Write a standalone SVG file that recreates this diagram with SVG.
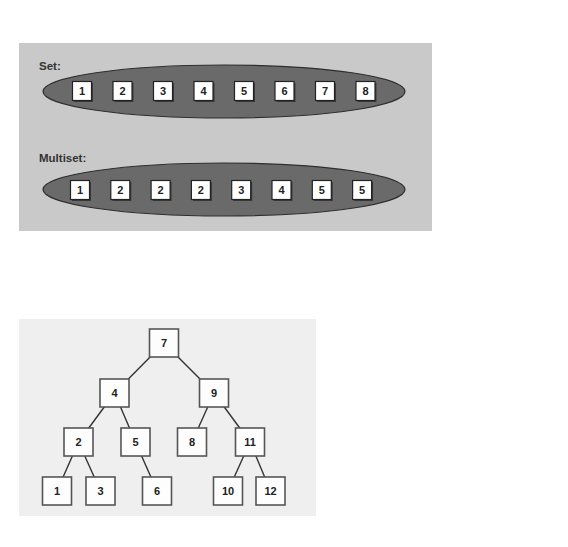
<svg xmlns="http://www.w3.org/2000/svg" width="568" height="547" viewBox="0 0 568 547">
<style>
.panel1{fill:#c9c9c9}
.panel2{fill:#efefef}
.ell{fill:#6a6a6a;stroke:#2e2e2e;stroke-width:1.2}
.sb{fill:#ffffff;stroke:#222;stroke-width:1.2}
.sh{fill:#3a3a3a}
.tb{fill:#fdfdfd;stroke:#555;stroke-width:1.6}
.lbl{font-family:"Liberation Sans",Arial,sans-serif;font-weight:bold;font-size:11.5px;fill:#333}
.num{font-family:"Liberation Sans",Arial,sans-serif;font-weight:bold;font-size:11px;fill:#222;text-anchor:middle}
.edge{stroke:#333;stroke-width:1.4}
</style>
<rect class="panel1" x="19" y="43" width="413" height="188"/>
<rect class="panel2" x="19" y="319" width="297" height="197"/>
<text class="lbl" x="39" y="70">Set:</text>
<text class="lbl" x="39" y="162">Multiset:</text>
<g id="set">
<ellipse class="ell" cx="224" cy="91.5" rx="181" ry="26.5"/>
<g id="s1"><rect class="sh" x="74" y="83" width="19" height="19"/><rect class="sb" x="72.5" y="81.5" width="19" height="19"/><text class="num" x="82" y="95">1</text></g>
<g id="s2"><rect class="sh" x="114.5" y="83" width="19" height="19"/><rect class="sb" x="113" y="81.5" width="19" height="19"/><text class="num" x="122.5" y="95">2</text></g>
<g id="s3"><rect class="sh" x="155" y="83" width="19" height="19"/><rect class="sb" x="153.5" y="81.5" width="19" height="19"/><text class="num" x="163" y="95">3</text></g>
<g id="s4"><rect class="sh" x="195.5" y="83" width="19" height="19"/><rect class="sb" x="194" y="81.5" width="19" height="19"/><text class="num" x="203.5" y="95">4</text></g>
<g id="s5"><rect class="sh" x="236" y="83" width="19" height="19"/><rect class="sb" x="234.5" y="81.5" width="19" height="19"/><text class="num" x="244" y="95">5</text></g>
<g id="s6"><rect class="sh" x="276.5" y="83" width="19" height="19"/><rect class="sb" x="275" y="81.5" width="19" height="19"/><text class="num" x="284.5" y="95">6</text></g>
<g id="s7"><rect class="sh" x="317" y="83" width="19" height="19"/><rect class="sb" x="315.5" y="81.5" width="19" height="19"/><text class="num" x="325" y="95">7</text></g>
<g id="s8"><rect class="sh" x="357.5" y="83" width="19" height="19"/><rect class="sb" x="356" y="81.5" width="19" height="19"/><text class="num" x="365.5" y="95">8</text></g>
</g>
<g id="multiset">
<ellipse class="ell" cx="224" cy="189.5" rx="181" ry="26.5"/>
<g id="m1"><rect class="sh" x="72" y="182" width="19" height="19"/><rect class="sb" x="70.5" y="180.5" width="19" height="19"/><text class="num" x="80" y="194">1</text></g>
<g id="m2"><rect class="sh" x="112.3" y="182" width="19" height="19"/><rect class="sb" x="110.8" y="180.5" width="19" height="19"/><text class="num" x="120.3" y="194">2</text></g>
<g id="m3"><rect class="sh" x="152.6" y="182" width="19" height="19"/><rect class="sb" x="151.1" y="180.5" width="19" height="19"/><text class="num" x="160.6" y="194">2</text></g>
<g id="m4"><rect class="sh" x="192.9" y="182" width="19" height="19"/><rect class="sb" x="191.4" y="180.5" width="19" height="19"/><text class="num" x="200.9" y="194">2</text></g>
<g id="m5"><rect class="sh" x="233.2" y="182" width="19" height="19"/><rect class="sb" x="231.7" y="180.5" width="19" height="19"/><text class="num" x="241.2" y="194">3</text></g>
<g id="m6"><rect class="sh" x="273.5" y="182" width="19" height="19"/><rect class="sb" x="272" y="180.5" width="19" height="19"/><text class="num" x="281.5" y="194">4</text></g>
<g id="m7"><rect class="sh" x="313.8" y="182" width="19" height="19"/><rect class="sb" x="312.3" y="180.5" width="19" height="19"/><text class="num" x="321.8" y="194">5</text></g>
<g id="m8"><rect class="sh" x="354.1" y="182" width="19" height="19"/><rect class="sb" x="352.6" y="180.5" width="19" height="19"/><text class="num" x="362.1" y="194">5</text></g>
</g>
<g id="connectors">
<line class="edge" x1="164" y1="343" x2="114.5" y2="393"/>
<line class="edge" x1="164" y1="343" x2="214" y2="393"/>
<line class="edge" x1="114.5" y1="393" x2="78.5" y2="442"/>
<line class="edge" x1="114.5" y1="393" x2="135.5" y2="442"/>
<line class="edge" x1="214" y1="393" x2="192" y2="442"/>
<line class="edge" x1="214" y1="393" x2="250" y2="442"/>
<line class="edge" x1="78.5" y1="442" x2="57" y2="491"/>
<line class="edge" x1="78.5" y1="442" x2="100.5" y2="491"/>
<line class="edge" x1="135.5" y1="442" x2="157" y2="491"/>
<line class="edge" x1="250" y1="442" x2="228" y2="491"/>
<line class="edge" x1="250" y1="442" x2="270.5" y2="491"/>
</g>
<g id="t7"><rect class="tb" x="149.5" y="329" width="29" height="28"/><text class="num" x="164" y="347">7</text></g>
<g id="t4"><rect class="tb" x="100" y="379" width="29" height="28"/><text class="num" x="114.5" y="397">4</text></g>
<g id="t9"><rect class="tb" x="199.5" y="379" width="29" height="28"/><text class="num" x="214" y="397">9</text></g>
<g id="t2"><rect class="tb" x="64" y="428" width="29" height="28"/><text class="num" x="78.5" y="446">2</text></g>
<g id="t5"><rect class="tb" x="121" y="428" width="29" height="28"/><text class="num" x="135.5" y="446">5</text></g>
<g id="t8"><rect class="tb" x="177.5" y="428" width="29" height="28"/><text class="num" x="192" y="446">8</text></g>
<g id="t11"><rect class="tb" x="235.5" y="428" width="29" height="28"/><text class="num" x="250" y="446">11</text></g>
<g id="t1"><rect class="tb" x="42.5" y="477" width="29" height="28"/><text class="num" x="57" y="495">1</text></g>
<g id="t3"><rect class="tb" x="86" y="477" width="29" height="28"/><text class="num" x="100.5" y="495">3</text></g>
<g id="t6"><rect class="tb" x="142.5" y="477" width="29" height="28"/><text class="num" x="157" y="495">6</text></g>
<g id="t10"><rect class="tb" x="213.5" y="477" width="29" height="28"/><text class="num" x="228" y="495">10</text></g>
<g id="t12"><rect class="tb" x="256" y="477" width="29" height="28"/><text class="num" x="270.5" y="495">12</text></g>
</svg>
